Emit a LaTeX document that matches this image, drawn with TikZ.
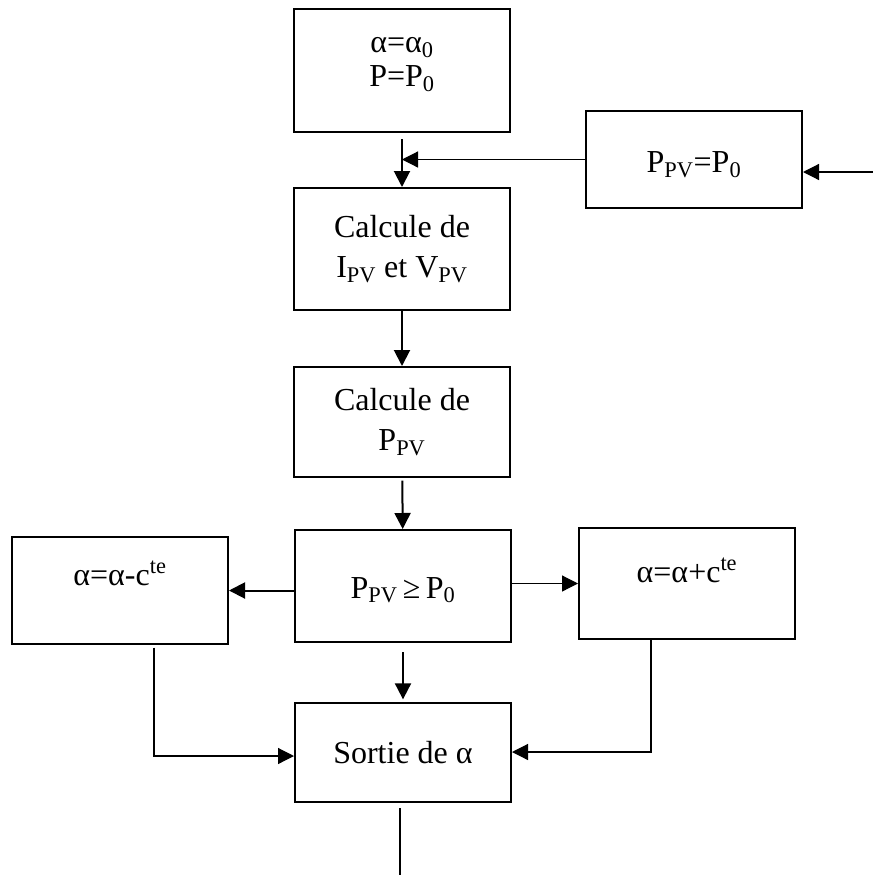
\documentclass[tikz,border=0pt]{standalone}
\usepackage{fontspec}
\setmainfont{Liberation Serif}
\usetikzlibrary{arrows.meta}

\tikzset{
  blk/.style={draw, line width=1.5pt, minimum width=162pt, inner sep=0pt, align=center,
    font=\fontsize{24}{30}\selectfont},
  heavyarrow/.style={line width=1.5pt, -{Triangle[length=12pt,width=12pt]}},
  lightarrow/.style={line width=0.9pt, -{Triangle[length=12pt,width=12pt]}},
  lightline/.style={line width=0.9pt},
}

\begin{document}
\begin{tikzpicture}[x=0.75pt,y=0.75pt,yscale=-1,xscale=1]
	\useasboundingbox (0,0) rectangle (873,875);
	
	%Shape: Rectangle [init]
	\node [blk, minimum height=92.25pt, font=\fontsize{24}{26}\selectfont, text depth=13pt] (init) at (402,70.5) {α=α\textsubscript{0}\\P=P\textsubscript{0}};
	%Shape: Rectangle [ppvset]
	\node [blk, minimum height=72.75pt, text height=24pt] (ppvset) at (694,159.5) {P\textsubscript{PV}=P\textsubscript{0}};
	%Shape: Rectangle [calcIV]
	\node [blk, minimum height=91.5pt] (calcIV) at (402,249) {Calcule de\\I\textsubscript{PV} et V\textsubscript{PV}};
	%Shape: Rectangle [calcP]
	\node [blk, minimum height=82.5pt] (calcP) at (402,422) {Calcule de\\P\textsubscript{PV}};
	%Shape: Rectangle [test]
	\node [blk, minimum height=84pt, text height=22pt] (test) at (403,586) {P\textsubscript{PV}\,≥\,P\textsubscript{0}};
	%Shape: Rectangle [dec]
	\node [blk, minimum height=80.25pt, text depth=26pt] (dec) at (120,590.5) {α=α-c\textsuperscript{te}};
	%Shape: Rectangle [inc]
	\node [blk, minimum height=83.25pt, text depth=20pt] (inc) at (687,583.5) {α=α+c\textsuperscript{te}};
	%Shape: Rectangle [out]
	\node [blk, minimum height=74.25pt] (out) at (403,752.5) {Sortie de α};
	
	%Free ends and corners
	\coordinate (rin) at (873,172);
	\coordinate (dcorner) at (154,756);
	\coordinate (icorner) at (651,752);
	\coordinate (oend) at (400,875);
	
	%Straight Lines
	\draw [heavyarrow, shorten <=4.5pt] (init) -- (calcIV);
	\draw [lightarrow] (ppvset.west) -- (ppvset.west -| init.south);
	\draw [lightarrow] (rin) -- (rin -| ppvset.east);
	\draw [heavyarrow] (calcIV) -- (calcP);
	\draw [heavyarrow, shorten <=2pt] (calcP) -- (test);
	\draw [heavyarrow] (dec.east -| test.west) -- (dec.east);
	\draw [lightarrow] (inc.west -| test.east) -- (inc.west);
	\draw [heavyarrow, shorten <=6.75pt, shorten >=2pt] (test) -- (out);
	\draw [lightarrow, shorten <=2pt] (dcorner |- dec.south) -- (dcorner) -- (dcorner -| out.west);
	\draw [lightarrow] (icorner |- inc.south) -- (icorner) -- (icorner -| out.east);
	\draw [lightline, shorten <=4pt] (oend |- out.south) -- (oend);
	
\end{tikzpicture}
\end{document}
